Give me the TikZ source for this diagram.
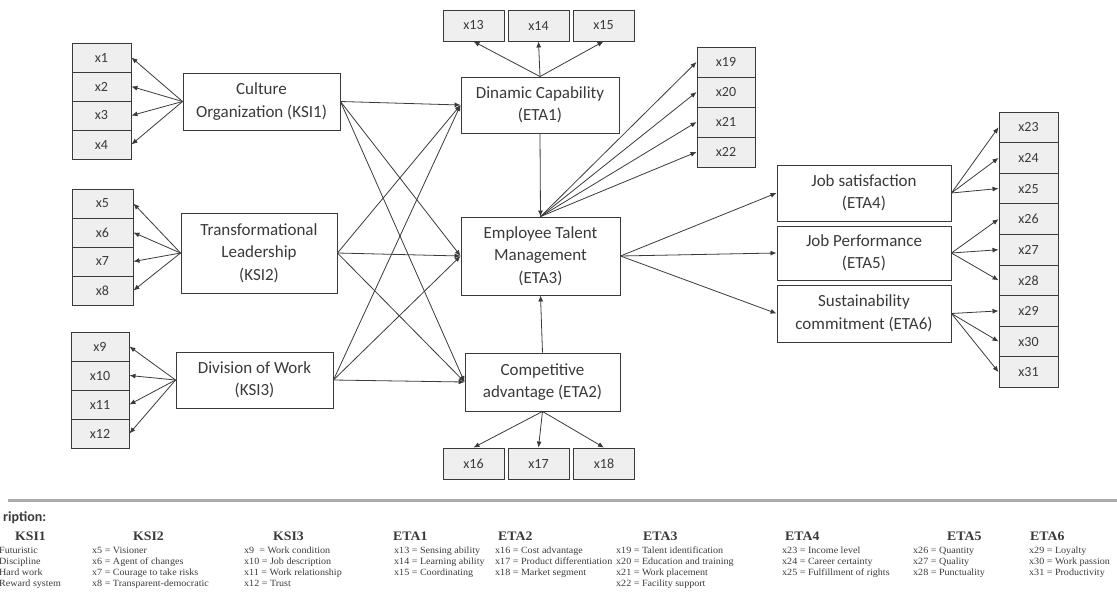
\documentclass[tikz,border=0pt]{standalone}
\usepackage{fontspec}
\setmainfont{Liberation Serif}
\newfontfamily\boxfont{Carlito}
\newfontfamily\descfont[FakeStretch=1.06]{Liberation Serif}
\usetikzlibrary{arrows.meta}
\definecolor{L}{RGB}{58, 58, 58}
\definecolor{F}{RGB}{239, 239, 239}
\definecolor{R}{RGB}{170, 170, 170}

\tikzset{
  ind/.style={draw=L, fill=F, line width=0.9pt, minimum width=59pt, minimum height=29pt,
    inner sep=0pt, text=L, font=\boxfont\fontsize{14}{14}\selectfont},
  lat/.style={draw=L, fill=white, line width=0.9pt, align=center, inner sep=0pt, text=L,
    font=\boxfont\fontsize{17}{22.5}\selectfont},
  lnk/.style={draw=L, line width=0.8pt, -{Latex[length=6pt,width=5pt]}},
  desc/.style={anchor=base west, inner sep=0pt, text=L, font=\descfont\fontsize{9.5}{10}\selectfont},
  hd/.style={anchor=base west, inner sep=0pt, text=L, font=\descfont\bfseries\fontsize{13}{13}\selectfont}
}

\begin{document}
\begin{tikzpicture}[x=1pt,y=-1pt]
  \useasboundingbox (0,0) rectangle (1117,606);

  % indicadores de las variables exogenas
  \foreach \i in {1,...,4}
    \node[ind] (x\i) at (101.5, 28.5+29*\i) {x\i};
  \foreach \i in {5,...,8}
    \node[ind, minimum width=61pt] (x\i) at (102.5, 58.5+29*\i) {x\i};
  \foreach \i in {9,...,12}
    \node[ind, minimum width=58pt] (x\i) at (100, 85.5+29*\i) {x\i};

  % variables latentes
  \node[lat, minimum width=157pt, minimum height=57pt] (ksi1) at (261.5,101.5) {Culture\\Organization (KSI1)};
  \node[lat, minimum width=156pt, minimum height=80pt] (ksi2) at (259,253) {Transformational\\Leadership\\(KSI2)};
  \node[lat, minimum width=157pt, minimum height=56pt] (ksi3) at (254.5,380) {Division of Work\\(KSI3)};
  \node[lat, minimum width=158pt, minimum height=56pt] (eta1) at (540,105) {Dinamic Capability\\(ETA1)};
  \node[lat, minimum width=159pt, minimum height=78pt] (eta3) at (540.5,256) {Employee Talent\\Management\\(ETA3)};
  \node[lat, minimum width=155pt, minimum height=58pt] (eta2) at (542.5,382) {Competitive\\advantage (ETA2)};
  \node[lat, minimum width=174pt, minimum height=56pt] (eta4) at (864,193) {Job satisfaction\\(ETA4)};
  \node[lat, minimum width=174pt, minimum height=54pt] (eta5) at (864,253) {Job Performance\\(ETA5)};
  \node[lat, minimum width=174pt, minimum height=57pt] (eta6) at (864,313.5) {Sustainability\\commitment (ETA6)};

  % indicadores de las variables endogenas
  \foreach \i/\px in {13/473.5, 14/538.5, 15/603.5}
    \node[ind, minimum width=61pt, minimum height=31pt] (x\i) at (\px,25.5) {x\i};
  \foreach \i/\px in {16/473.5, 17/538.5, 18/604}
    \node[ind, minimum width=61pt, minimum height=31pt] (x\i) at (\px,463.5) {x\i};
  \foreach \i in {19,...,22}
    \node[ind, minimum width=58pt, minimum height=30pt] (x\i) at (726, -508+30*\i) {x\i};
  \foreach \i in {23,...,31}
    \node[ind, minimum height=30.6pt] (x\i) at (1028.5, 127.3+30.6*\i-703.8) {x\i};

  % cargas
  \foreach \i in {1,...,4} \draw[lnk] (ksi1.west) -- (x\i.east);
  \foreach \i in {5,...,8} \draw[lnk] (ksi2.west) -- (x\i.east);
  \foreach \i in {9,...,12} \draw[lnk] (ksi3.west) -- (x\i.east);
  \foreach \i in {13,14,15} \draw[lnk] (eta1.north) -- (x\i.south);
  \foreach \i in {16,17,18} \draw[lnk] (eta2.south) -- (x\i.north);
  \foreach \i in {19,...,22} \draw[lnk] (eta3.north) -- (x\i.west);
  \foreach \i in {23,24,25} \draw[lnk] (eta4.east) -- (x\i.west);
  \foreach \i in {26,27,28} \draw[lnk] (eta5.east) -- (x\i.west);
  \foreach \i in {29,30,31} \draw[lnk] (eta6.east) -- (x\i.west);

  % relaciones estructurales
  \foreach \s in {ksi1,ksi2,ksi3}
    \foreach \t in {eta1,eta3,eta2}
      \draw[lnk] (\s.east) -- (\t.west);
  \draw[lnk] (eta1.south) -- (eta3.north);
  \draw[lnk] (eta2.north) -- (eta3.south);
  \foreach \t in {eta4,eta5,eta6} \draw[lnk] (eta3.east) -- (\t.west);

  % descripcion
  \draw[R, line width=3pt] (8,500) -- (1117,500);
  \node[anchor=base west, inner sep=0pt, text=L, font=\boxfont\bfseries\fontsize{14}{14}\selectfont] (titulo) at (3,521) {ription:};

  \node[hd] (hksi1) at (15,540) {KSI1};
  \node[hd] (hksi2) at (133,540) {KSI2};
  \node[hd] (hksi3) at (273,540) {KSI3};
  \node[hd] (heta1) at (393,540) {ETA1};
  \node[hd] (heta2) at (498,540) {ETA2};
  \node[hd] (heta3) at (643,540) {ETA3};
  \node[hd] (heta4) at (785,540) {ETA4};
  \node[hd] (heta5) at (947,540) {ETA5};
  \node[hd] (heta6) at (1030,540) {ETA6};

  \foreach \t [count=\k] in {Futuristic, Discipline, Hard work, Reward system}
    \node[desc] (dk1-\k) at (-1, 542+11*\k) {\t};
  \foreach \t [count=\k] in {x5 = Visioner, x6 = Agent of changes, x7 = Courage to take risks, x8 = Transparent-democratic}
    \node[desc] (dk2-\k) at (92, 542+11*\k) {\t};
  \foreach \t [count=\k] in {x9\ \ = Work condition, x10 = Job description, x11 = Work relationship, x12 = Trust}
    \node[desc] (dk3-\k) at (244, 542+11*\k) {\t};
  \foreach \t [count=\k] in {x13 = Sensing ability, x14 = Learning ability, x15 = Coordinating}
    \node[desc] (de1-\k) at (394, 542+11*\k) {\t};
  \foreach \t [count=\k] in {x16 = Cost advantage, x17 = Product differentiation, x18 = Market segment}
    \node[desc] (de2-\k) at (495, 542+11*\k) {\t};
  \foreach \t [count=\k] in {x19 = Talent identification, x20 = Education and training, x21 = Work placement, x22 = Facility support}
    \node[desc] (de3-\k) at (616, 542+11*\k) {\t};
  \foreach \t [count=\k] in {x23 = Income level, x24 = Career certainty, x25 = Fulfillment of rights}
    \node[desc] (de4-\k) at (782, 542+11*\k) {\t};
  \foreach \t [count=\k] in {x26 = Quantity, x27 = Quality, x28 = Punctuality}
    \node[desc] (de5-\k) at (913, 542+11*\k) {\t};
  \foreach \t [count=\k] in {x29 = Loyalty, x30 = Work passion, x31 = Productivity}
    \node[desc] (de6-\k) at (1029, 542+11*\k) {\t};
\end{tikzpicture}
\end{document}
